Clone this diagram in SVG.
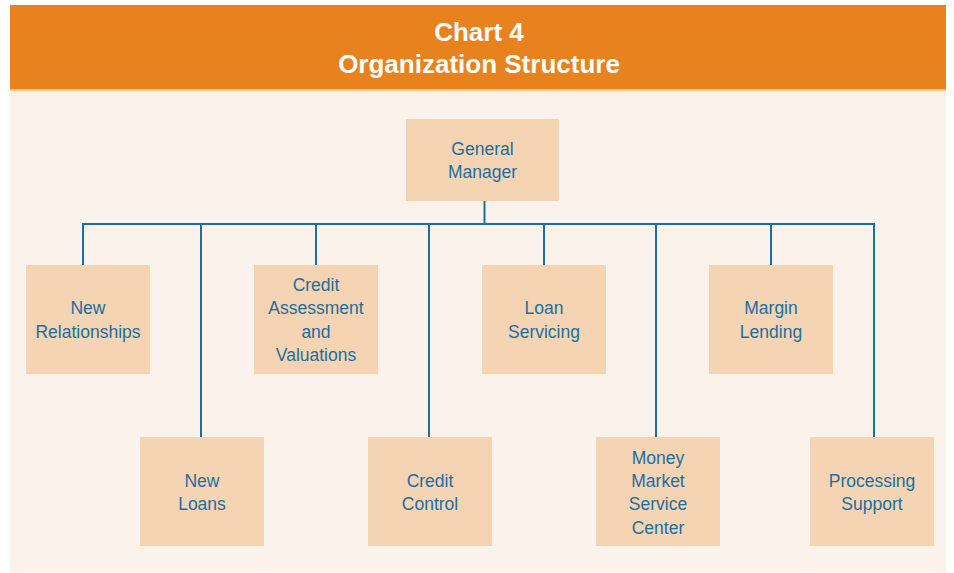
<svg xmlns="http://www.w3.org/2000/svg" width="954" height="573" viewBox="0 0 954 573">
  <style>
    .title { font-family: "Liberation Sans", Arial, sans-serif; font-weight: bold; font-size: 26px; fill: #ffffff; text-anchor: middle; }
    .box { fill: #f5d4b4; }
    .label { font-family: "Liberation Sans", Arial, sans-serif; font-size: 17.5px; fill: #1c6e9f; text-anchor: middle; }
    .wire { fill: none; stroke: #1c6e9f; stroke-width: 2; }
  </style>
  <rect x="0" y="0" width="954" height="573" fill="#ffffff"/>
  <!-- panel background -->
  <rect x="10" y="5" width="936" height="567" fill="#fcf2ec"/>
  <!-- header band -->
  <rect x="10" y="5" width="936" height="85" fill="#e8821e"/>
  <rect x="10" y="89" width="936" height="2" fill="#f4c9a0"/>
  <text class="title" x="479" y="41">Chart 4</text>
  <text class="title" x="479" y="73">Organization Structure</text>

  <!-- connectors -->
  <g id="connectors">
    <path class="wire" d="M484.5 201 V224"/>
    <path class="wire" d="M83 265 V224 H874 V437"/>
    <path class="wire" d="M201 224 V437"/>
    <path class="wire" d="M316 224 V265"/>
    <path class="wire" d="M429 224 V437"/>
    <path class="wire" d="M544 224 V265"/>
    <path class="wire" d="M656 224 V437"/>
    <path class="wire" d="M771 224 V265"/>
  </g>

  <g id="general-manager">
    <rect class="box" x="406" y="119" width="153" height="82"/>
    <text class="label" x="482.5" y="155">General</text>
    <text class="label" x="482.5" y="178">Manager</text>
  </g>

  <g id="new-relationships">
    <rect class="box" x="26" y="265" width="124" height="109"/>
    <text class="label" x="88" y="314">New</text>
    <text class="label" x="88" y="338">Relationships</text>
  </g>

  <g id="credit-assessment">
    <rect class="box" x="254" y="265" width="124" height="109"/>
    <text class="label" x="316" y="291">Credit</text>
    <text class="label" x="316" y="314">Assessment</text>
    <text class="label" x="316" y="338">and</text>
    <text class="label" x="316" y="361">Valuations</text>
  </g>

  <g id="loan-servicing">
    <rect class="box" x="482" y="265" width="124" height="109"/>
    <text class="label" x="544" y="314">Loan</text>
    <text class="label" x="544" y="338">Servicing</text>
  </g>

  <g id="margin-lending">
    <rect class="box" x="709" y="265" width="124" height="109"/>
    <text class="label" x="771" y="314">Margin</text>
    <text class="label" x="771" y="338">Lending</text>
  </g>

  <g id="new-loans">
    <rect class="box" x="140" y="437" width="124" height="109"/>
    <text class="label" x="202" y="487">New</text>
    <text class="label" x="202" y="510">Loans</text>
  </g>

  <g id="credit-control">
    <rect class="box" x="368" y="437" width="124" height="109"/>
    <text class="label" x="430" y="487">Credit</text>
    <text class="label" x="430" y="510">Control</text>
  </g>

  <g id="money-market">
    <rect class="box" x="596" y="437" width="124" height="109"/>
    <text class="label" x="658" y="464">Money</text>
    <text class="label" x="658" y="487">Market</text>
    <text class="label" x="658" y="510">Service</text>
    <text class="label" x="658" y="534">Center</text>
  </g>

  <g id="processing-support">
    <rect class="box" x="810" y="437" width="124" height="109"/>
    <text class="label" x="872" y="487">Processing</text>
    <text class="label" x="872" y="510">Support</text>
  </g>
</svg>
